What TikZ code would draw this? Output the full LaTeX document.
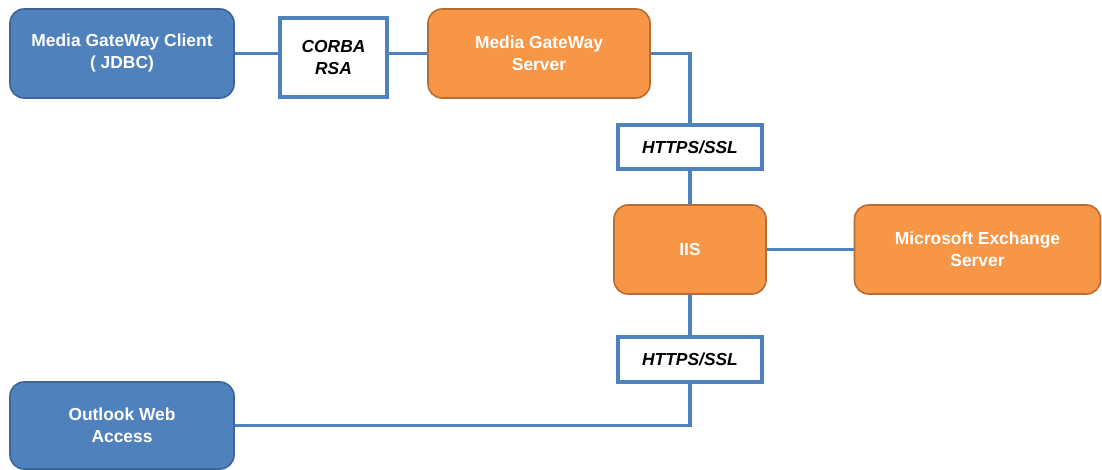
\documentclass[tikz,border=0pt]{standalone}
\usepackage{fontspec}
\setmainfont{Liberation Sans}
\usetikzlibrary{positioning}

\definecolor{boxblue}{HTML}{4F81BD}
\definecolor{boxblueline}{HTML}{3B6696}
\definecolor{boxorange}{HTML}{F79646}
\definecolor{boxorangeline}{HTML}{B96C32}

\begin{document}
\begin{tikzpicture}[x=1pt,y=-1pt]
\tikzstyle{every node}+=[inner sep=0pt, font=\fontsize{17.4}{22}\selectfont\bfseries, align=center]
\tikzstyle{bluebox}=[draw=boxblueline, line width=1.6pt, fill=boxblue, text=white, rounded corners=14pt, minimum width=224pt, minimum height=89pt]
\tikzstyle{orangebox}=[draw=boxorangeline, line width=1.6pt, fill=boxorange, text=white, rounded corners=14pt, minimum height=89pt]
\tikzstyle{protobox}=[draw=boxblue, line width=3.6pt, fill=white, text=black, font=\fontsize{17.4}{22}\selectfont\bfseries\itshape]
\tikzstyle{wire}=[draw=boxblue, line width=3.4pt]
\useasboundingbox (0,0) rectangle (1102,470);
\node [bluebox] (client) at (122,53.5) {Media GateWay Client\\( JDBC)};
\node [protobox, minimum width=107pt, minimum height=79pt] (corba) at (333.5,57.5) {CORBA\\RSA};
\node [orangebox, minimum width=222pt] (server) at (539,53.5) {Media GateWay\\Server};
\node [protobox, minimum width=144pt, minimum height=44pt] (ssltop) at (690,147) {HTTPS/SSL};
\node [orangebox, minimum width=152pt] (iis) at (690,249.5) {IIS};
\node [orangebox, minimum width=246pt] (exchange) at (977.5,249.5) {Microsoft Exchange\\Server};
\node [protobox, minimum width=144pt, minimum height=45pt] (sslbot) at (690,359.5) {HTTPS/SSL};
\node [bluebox, minimum height=87pt] (owa) at (122,425.5) {Outlook Web\\Access};
\draw [wire] (client.east) -- (client.east -| corba.west);
\draw [wire] (corba.east |- server.west) -- (server.west);
\draw [wire] (server.east) -| (ssltop.north);
\draw [wire] (ssltop.south) -- (iis.north);
\draw [wire] (iis.east) -- (exchange.west);
\draw [wire] (iis.south) -- (sslbot.north);
\draw [wire] (sslbot.south) |- (owa.east);
\end{tikzpicture}
\end{document}
